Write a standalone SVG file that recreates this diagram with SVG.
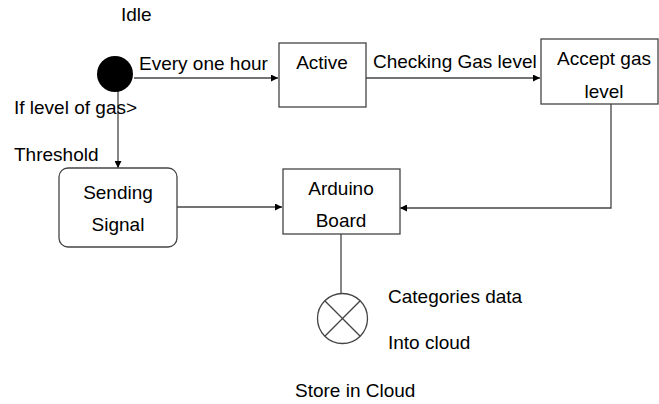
<svg xmlns="http://www.w3.org/2000/svg" width="659" height="404" viewBox="0 0 659 404">
  <defs>
    <marker id="arrow" viewBox="0 0 10 10" refX="10" refY="5" markerWidth="8" markerHeight="7" markerUnits="userSpaceOnUse" orient="auto">
      <path d="M0,0 L10,5 L0,10 Z" fill="#000"/>
    </marker>
  </defs>
  <style>
    text { font-family: "Liberation Sans", Arial, sans-serif; font-size: 19px; fill: #000; }
    .mid { text-anchor: middle; }
    .box { fill: #fff; stroke: #444; stroke-width: 1.3; }
    .line { fill: none; stroke: #444; stroke-width: 1.3; }
    .arr { marker-end: url(#arrow); }
  </style>
  <rect width="659" height="404" fill="#fff"/>

  <!-- connectors -->
  <g id="connectors">
    <line class="line arr" x1="134" y1="78" x2="278" y2="78"/>
    <line class="line arr" x1="118" y1="90" x2="118" y2="168"/>
    <line class="line arr" x1="362" y1="78" x2="540" y2="78"/>
    <polyline class="line arr" points="611,104 611,208 400,208"/>
    <line class="line arr" x1="177" y1="207" x2="282" y2="207"/>
    <line class="line" x1="341" y1="234" x2="341" y2="293"/>
  </g>

  <!-- initial state -->
  <g id="idle">
    <circle cx="115" cy="74" r="18" fill="#000"/>
    <text x="121" y="21">Idle</text>
  </g>

  <g id="active">
    <rect class="box" x="279" y="43" width="87" height="64"/>
    <text class="mid" x="322" y="69">Active</text>
  </g>

  <g id="accept-gas-level">
    <rect class="box" x="541" y="39" width="117" height="65"/>
    <text class="mid" x="604" y="65">Accept gas</text>
    <text class="mid" x="604" y="98">level</text>
  </g>

  <g id="sending-signal">
    <rect class="box" x="59" y="168" width="118" height="79" rx="9" ry="9"/>
    <text class="mid" x="118" y="199">Sending</text>
    <text class="mid" x="118" y="231">Signal</text>
  </g>

  <g id="arduino-board">
    <rect class="box" x="283" y="169" width="117" height="65"/>
    <text class="mid" x="341" y="195">Arduino</text>
    <text class="mid" x="341" y="227">Board</text>
  </g>

  <!-- final state: store in cloud -->
  <g id="store-in-cloud">
    <circle class="line" cx="342.5" cy="318.5" r="25"/>
    <line class="line" x1="324.8" y1="300.8" x2="360.2" y2="336.2"/>
    <line class="line" x1="360.2" y1="300.8" x2="324.8" y2="336.2"/>
    <text x="295" y="397">Store in Cloud</text>
  </g>

  <!-- transition labels -->
  <g id="labels">
    <text x="139" y="70">Every one hour</text>
    <text x="14" y="114">If level of gas&gt;</text>
    <text x="14" y="161">Threshold</text>
    <text x="373" y="68">Checking Gas level</text>
    <text x="388" y="303">Categories data</text>
    <text x="388" y="349">Into cloud</text>
  </g>
</svg>
